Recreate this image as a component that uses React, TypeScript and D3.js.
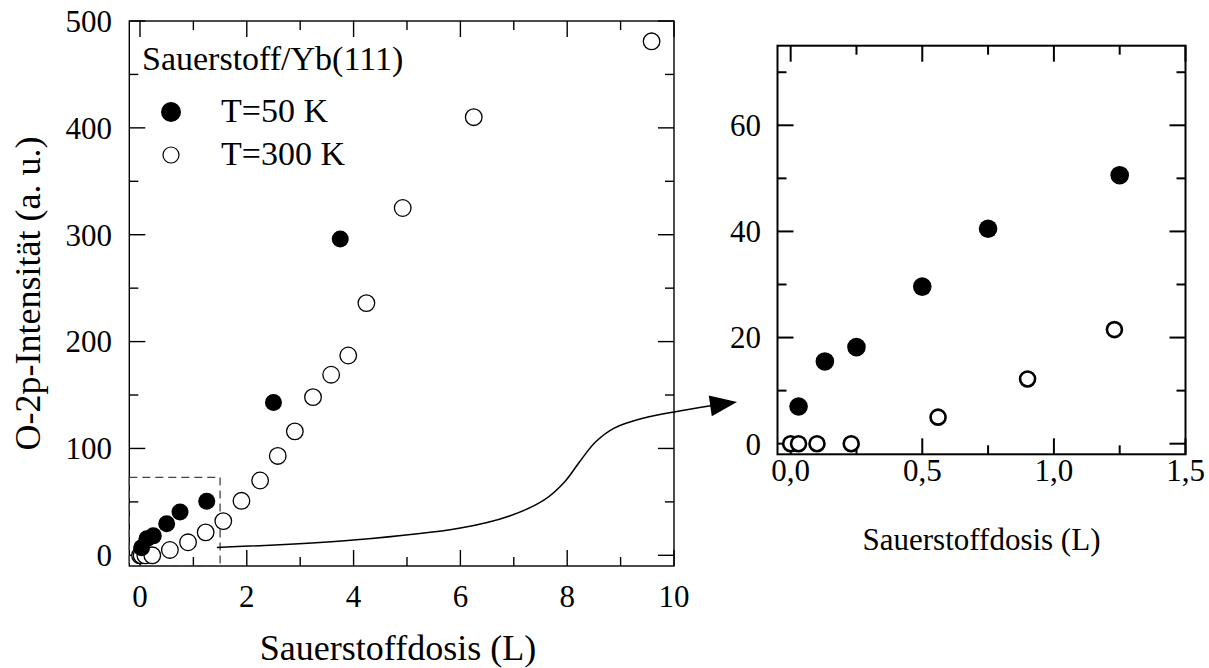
import * as d3 from 'd3';

const FONT = '"Liberation Serif", "Times New Roman", serif';

// T=50 K (filled markers)
const dose50 = [0.03, 0.13, 0.25, 0.5, 0.75, 1.25, 2.5, 3.75];
const int50 = [7, 15.5, 18.2, 29.6, 40.5, 50.6, 143, 296];

// T=300 K (open markers)
const dose300 = [0, 0.03, 0.1, 0.23, 0.56, 0.9, 1.23, 1.56, 1.9, 2.25, 2.58, 2.9, 3.24, 3.58, 3.9, 4.24, 4.92, 6.25, 9.58];
const int300 = [0, 0, 0, 0, 5, 12.2, 21.5, 32, 51, 70, 93, 116, 148, 169, 187, 236, 325, 410, 481];

// tick values
const mainXMajor = [0, 2, 4, 6, 8, 10];
const mainXMinor = [1, 3, 5, 7, 9];
const mainYMajor = [0, 100, 200, 300, 400, 500];
const mainYMinor = [50, 150, 250, 350, 450];
const insetXMajor = [0, 0.5, 1, 1.5];
const insetXMinor = [0.25, 0.75, 1.25];
const insetYMajor = [0, 20, 40, 60];
const insetYMinor = [10, 30, 50, 70];

// zoom window shown in the inset
const zoomX = 1.5;
const zoomY = 73;

// annotation curve (main plot units), ends in an arrow toward the inset
const curveX = [1.44, 4.0, 6.0, 6.92, 7.57, 7.95, 8.23, 8.53, 8.88, 9.44, 10.1, 10.69];
const curveY = [7.2, 14.3, 25.5, 36.8, 51.8, 68.6, 87.4, 106, 119, 128.5, 135, 140];
const arrowTip = [11.18, 143.5];

const W = 1209;
const H = 668;

const xMain = d3.scaleLinear().domain([-0.2, 10]).range([129.3, 674]);
const yMain = d3.scaleLinear().domain([-10, 500]).range([566, 21]);
const xIn = d3.scaleLinear().domain([-0.05, 1.5]).range([777.5, 1185.5]);
const yIn = d3.scaleLinear().domain([-2, 75]).range([454.3, 45.7]);

type PanelProps = {
  x: d3.ScaleLinear<number, number>;
  y: d3.ScaleLinear<number, number>;
  xMajor: number[];
  xMinor: number[];
  yMajor: number[];
  yMinor: number[];
  fmtX: (v: number) => string;
  fmtY: (v: number) => string;
  sw: number;
  xLabelY: number;
  yLabelX: number;
};

function Panel({ x, y, xMajor, xMinor, yMajor, yMinor, fmtX, fmtY, sw, xLabelY, yLabelX }: PanelProps) {
  const [l, r] = x.range();
  const [b, t] = y.range();
  const MAJ = 16;
  const MIN = 9;
  const xt = [...xMajor.map(v => ({ v, len: MAJ })), ...xMinor.map(v => ({ v, len: MIN }))];
  const yt = [...yMajor.map(v => ({ v, len: MAJ })), ...yMinor.map(v => ({ v, len: MIN }))];
  return (
    <g stroke="#000" strokeWidth={sw}>
      {xt.map((d, i) => (
        <g key={'x' + i}>
          <line x1={x(d.v)} x2={x(d.v)} y1={b} y2={b - d.len} />
          <line x1={x(d.v)} x2={x(d.v)} y1={t} y2={t + d.len} />
        </g>
      ))}
      {yt.map((d, i) => (
        <g key={'y' + i}>
          <line x1={l} x2={l + d.len} y1={y(d.v)} y2={y(d.v)} />
          <line x1={r} x2={r - d.len} y1={y(d.v)} y2={y(d.v)} />
        </g>
      ))}
      <rect x={l} y={t} width={r - l} height={b - t} fill="none" />
      <g stroke="none" fill="#000" fontFamily={FONT} fontSize={31}>
        {xMajor.map(v => (
          <text key={'lx' + v} x={x(v)} y={xLabelY} textAnchor="middle">{fmtX(v)}</text>
        ))}
        {yMajor.map(v => (
          <text key={'ly' + v} x={yLabelX} y={y(v)} dy="0.35em" textAnchor="end">{fmtY(v)}</text>
        ))}
      </g>
    </g>
  );
}

export default function App() {
  const pts = curveX.map((v, i) => [xMain(v), yMain(curveY[i])] as [number, number]);
  const line = d3.line().curve(d3.curveCatmullRom.alpha(0.5));
  const tip: [number, number] = [xMain(arrowTip[0]), yMain(arrowTip[1])];
  const last = pts[pts.length - 1];
  const ang = Math.atan2(tip[1] - last[1], tip[0] - last[0]);
  const aLen = 27;
  const aW = 10.5;
  const bx = tip[0] - aLen * Math.cos(ang);
  const by = tip[1] - aLen * Math.sin(ang);
  const arrow = [
    tip,
    [bx + aW * Math.sin(ang), by - aW * Math.cos(ang)],
    [bx - aW * Math.sin(ang), by + aW * Math.cos(ang)],
  ];
  const fmtComma = (v: number) => d3.format('.1f')(v).replace('.', ',');

  const in50 = dose50.map((d, i) => ({ d, v: int50[i] })).filter(p => p.d <= 1.5);
  const in300 = dose300.map((d, i) => ({ d, v: int300[i] })).filter(p => p.d <= 1.5);

  return (
    <div style={{ position: 'fixed', left: 0, top: 0 }}>
      <svg width={W} height={H} style={{ display: 'block', background: '#fff' }}>
        {/* main panel */}
        <Panel x={xMain} y={yMain} xMajor={mainXMajor} xMinor={mainXMinor} yMajor={mainYMajor} yMinor={mainYMinor}
          fmtX={v => String(v)} fmtY={v => String(v)} sw={1.4} xLabelY={607} yLabelX={112} />
        <rect x={xMain.range()[0]} y={yMain(zoomY)} width={xMain(zoomX) - xMain.range()[0]}
          height={yMain.range()[0] - yMain(zoomY)} fill="none" stroke="#444" strokeWidth={1.3} strokeDasharray="8,5" />
        {dose300.map((d, i) => (
          <circle key={'o' + i} cx={xMain(d)} cy={yMain(int300[i])} r={8.3} fill="#fff" stroke="#000" strokeWidth={1.3} />
        ))}
        {dose50.map((d, i) => (
          <circle key={'f' + i} cx={xMain(d)} cy={yMain(int50[i])} r={8.5} fill="#000" />
        ))}
        {/* legend */}
        <g fontFamily={FONT} fill="#000">
          <text x={142} y={70} fontSize={34}>Sauerstoff/Yb(111)</text>
          <circle cx={171} cy={112} r={10} fill="#000" />
          <text x={221} y={122} fontSize={34}>T=50 K</text>
          <circle cx={171} cy={155} r={8} fill="#fff" stroke="#000" strokeWidth={1.2} />
          <text x={221} y={165} fontSize={34}>T=300 K</text>
        </g>
        <text x={398} y={660} textAnchor="middle" fontFamily={FONT} fontSize={36}>Sauerstoffdosis (L)</text>
        <text transform={`translate(40,${(21 + 566) / 2}) rotate(-90)`} textAnchor="middle" fontFamily={FONT} fontSize={36}>
          O-2p-Intensität (a. u.)
        </text>

        {/* annotation curve with arrow */}
        <path d={line(pts) || ''} fill="none" stroke="#000" strokeWidth={1.5} />
        <polygon points={arrow.map(p => p.join(',')).join(' ')} fill="#000" />

        {/* inset */}
        <Panel x={xIn} y={yIn} xMajor={insetXMajor} xMinor={insetXMinor} yMajor={insetYMajor} yMinor={insetYMinor}
          fmtX={fmtComma} fmtY={v => String(v)} sw={2} xLabelY={481} yLabelX={761} />
        {in300.map((p, i) => (
          <circle key={'io' + i} cx={xIn(p.d)} cy={yIn(p.v)} r={7.5} fill="#fff" stroke="#000" strokeWidth={2.6} />
        ))}
        {in50.map((p, i) => (
          <circle key={'if' + i} cx={xIn(p.d)} cy={yIn(p.v)} r={9.3} fill="#000" />
        ))}
        <text x={(777.5 + 1185.5) / 2} y={550} textAnchor="middle" fontFamily={FONT} fontSize={31}>Sauerstoffdosis (L)</text>
      </svg>
    </div>
  );
}
